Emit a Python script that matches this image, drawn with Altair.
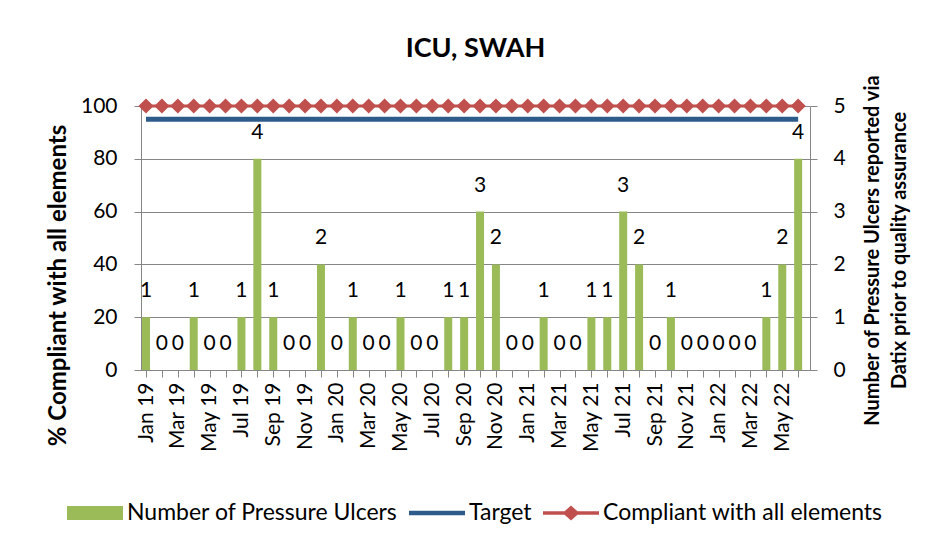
import json
import altair as alt
import pandas as pd

months = ["Jan 19", "Feb 19", "Mar 19", "Apr 19", "May 19", "Jun 19", "Jul 19", "Aug 19",
          "Sep 19", "Oct 19", "Nov 19", "Dec 19", "Jan 20", "Feb 20", "Mar 20", "Apr 20",
          "May 20", "Jun 20", "Jul 20", "Aug 20", "Sep 20", "Oct 20", "Nov 20", "Dec 20",
          "Jan 21", "Feb 21", "Mar 21", "Apr 21", "May 21", "Jun 21", "Jul 21", "Aug 21",
          "Sep 21", "Oct 21", "Nov 21", "Dec 21", "Jan 22", "Feb 22", "Mar 22", "Apr 22",
          "May 22", "Jun 22"]
ulcers = [1, 0, 0, 1, 0, 0, 1, 4, 1, 0, 0, 2, 0, 1, 0, 0, 1, 0, 0, 1, 1, 3, 2, 0,
          0, 1, 0, 0, 1, 1, 3, 2, 0, 1, 0, 0, 0, 0, 0, 1, 2, 4]
compliant = [100, 100, 100, 100, 100, 100, 100, 100, 100, 100, 100, 100, 100, 100,
             100, 100, 100, 100, 100, 100, 100, 100, 100, 100, 100, 100, 100, 100,
             100, 100, 100, 100, 100, 100, 100, 100, 100, 100, 100, 100, 100, 100]
target = [95, 95, 95, 95, 95, 95, 95, 95, 95, 95, 95, 95, 95, 95, 95, 95, 95, 95, 95, 95, 95,
          95, 95, 95, 95, 95, 95, 95, 95, 95, 95, 95, 95, 95, 95, 95, 95, 95, 95, 95, 95, 95]
series_names = ["Number of Pressure Ulcers", "Target", "Compliant with all elements"]
series_colors = ["#9BBB59", "#2E5C8A", "#C0504D"]
legend_shapes = [
    "M-1,-0.25H1V0.25H-1Z",
    "M-1,-0.08H1V0.08H-1Z",
    "M-1,-0.06H-0.23L0,-0.27L0.23,-0.06H1V0.06H0.23L0,0.27L-0.23,0.06H-1Z",
]

df = pd.DataFrame({
    "idx": list(range(len(months))),
    "month": months,
    "ulcers": ulcers,
    "compliant": compliant,
    "target": target,
})

FONT = "Lato"
GREY = "#868686"

label_expr = "datum.value % 2 == 0 ? " + json.dumps(months) + "[datum.value] : ''"
X = alt.X(
    "idx:Q",
    scale=alt.Scale(domain=[0, 41.43], nice=False, zero=False),
    axis=alt.Axis(values=list(range(len(months))), labelExpr=label_expr, labelAngle=-90,
                  title=None, grid=False, domainColor=GREY, tickColor=GREY, tickSize=7,
                  labelPadding=5, labelFontSize=21, labelFont=FONT, labelColor="black",
                  labelOverlap=False, labelBound=False, labelFlush=False),
)

right_scale = alt.Scale(domain=[0, 5], nice=False)
left_scale = alt.Scale(domain=[0, 100], nice=False)

right_axis = alt.Axis(
    orient="right", values=[0, 1, 2, 3, 4, 5], grid=False, domainColor=GREY, tickColor=GREY,
    tickSize=7, labelPadding=16, labelFontSize=21, labelFont=FONT, labelColor="black",
    title=["Number of Pressure Ulcers reported via", "Datix prior to quality assurance"],
    titleAngle=270, titleFontSize=20, titleFont=FONT, titleFontWeight="bold",
    titleColor="black", titlePadding=10, titleY=144, titleLineHeight=27,
)
left_axis = alt.Axis(
    orient="left", values=[0, 20, 40, 60, 80, 100], grid=True, gridColor=GREY, gridWidth=1,
    domainColor=GREY, tickColor=GREY, tickSize=7, labelPadding=17, labelFontSize=21,
    labelFont=FONT, labelColor="black",
    title="% Compliant with all elements", titleFontSize=24, titleFont=FONT,
    titleFontWeight="bold", titleColor="black", titlePadding=10, titleY=179,
)

base = alt.Chart(df)

bars = base.mark_bar(size=8, color=series_colors[0], clip=True).encode(
    x=X, y=alt.Y("ulcers:Q", scale=right_scale, axis=right_axis))
labels = base.mark_text(fontSize=21, font=FONT, color="black", baseline="alphabetic",
                        dy=-20).encode(
    x=X, y=alt.Y("ulcers:Q", scale=right_scale, axis=right_axis), text="ulcers:Q")
right = alt.layer(bars, labels)

target_line = base.mark_line(color=series_colors[1], strokeWidth=5).encode(
    x=X, y=alt.Y("target:Q", scale=left_scale, axis=left_axis))
comp_line = base.mark_line(color=series_colors[2], strokeWidth=3).encode(
    x=X, y=alt.Y("compliant:Q", scale=left_scale, axis=left_axis))
comp_pts = base.mark_point(shape="diamond", filled=True, size=230, opacity=1,
                           color=series_colors[2]).encode(
    x=X, y=alt.Y("compliant:Q", scale=left_scale, axis=left_axis))

legend_def = alt.Legend(orient="none", legendX=-74, legendY=379,
                        direction="horizontal", title=None,
                        symbolSize=3136, symbolStrokeWidth=0, symbolOpacity=1,
                        labelFontSize=23, labelFont=FONT, labelColor="black",
                        labelOffset=4, columnPadding=11, labelLimit=0,
                        padding=0, columns=3)

legend_layer = base.transform_filter("false").transform_calculate(
    series="'Target'").mark_point(filled=True, opacity=1).encode(
    x=X,
    y=alt.Y("compliant:Q", scale=left_scale, axis=left_axis),
    color=alt.Color("series:N", scale=alt.Scale(domain=series_names, range=series_colors),
                    legend=legend_def),
    shape=alt.Shape("series:N", scale=alt.Scale(domain=series_names, range=legend_shapes),
                    legend=legend_def),
)

left = alt.layer(target_line, comp_line, comp_pts, legend_layer)

chart = alt.layer(right, left).resolve_scale(y="independent").properties(
    width=669, height=264,
    autosize=alt.AutoSizeParams(type="none"),
    padding={"left": 133, "top": 98, "right": 117, "bottom": 165},
    title=alt.TitleParams("ICU, SWAH", font=FONT, fontSize=27, fontWeight="bold",
                          color="black", anchor="middle", offset=11),
    background="white",
).configure_view(stroke=None)

chart.save("out.html", embed_options={"renderer": "svg", "actions": False})
